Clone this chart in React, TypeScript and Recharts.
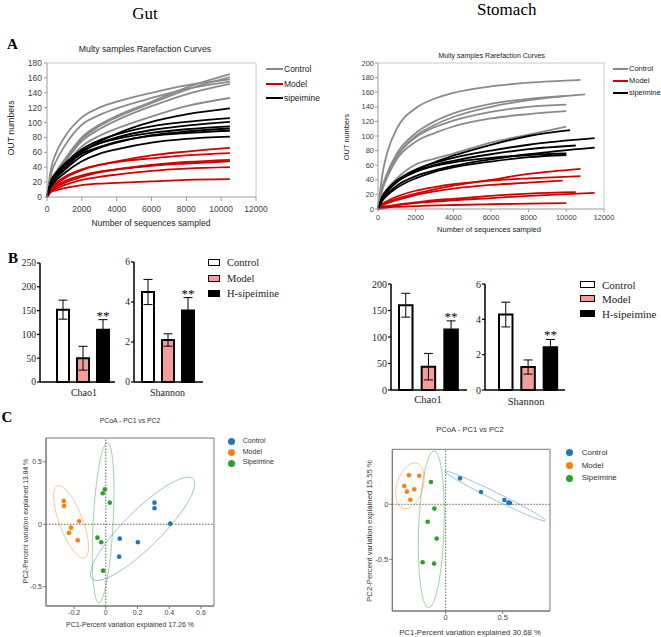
import { LineChart, Line, XAxis, YAxis, ReferenceLine, BarChart, Bar, Cell, ErrorBar, LabelList, ScatterChart, Scatter, ReferenceArea } from 'recharts';

const SANS = '"Liberation Sans", Arial, sans-serif';
const SERIF = '"Liberation Serif", "Times New Roman", serif';

// ---------- A: rarefaction curves ----------
const DEPTHS = [0, 250, 500, 1000, 2000, 3000, 4000, 6000, 8000];
const RARE_X_TICKS = [0, 2000, 4000, 6000, 8000, 10000, 12000];
const GUT_Y_TICKS = [0, 20, 40, 60, 80, 100, 120, 140, 160, 180];
const STOMACH_Y_TICKS = [0, 20, 40, 60, 80, 100, 120, 140, 160, 180, 200];
const RARE_GROUPS = ['Control', 'Model', 'sipeimine'];
const RARE_COLORS = ['#8a8a8a', '#d00000', '#000000'];

const GUT_CONTROL_END = [10500, 10500, 10500, 10500, 10500, 10500];
const GUT_CONTROL = [
  [0, 40, 58, 80, 107, 120, 128, 140, 150, 158],
  [0, 32, 47, 68, 97, 110, 119, 133, 145, 155],
  [0, 22, 33, 50, 80, 97, 109, 128, 147, 165],
  [0, 21, 32, 48, 78, 95, 107, 126, 144, 161],
  [0, 20, 30, 46, 75, 91, 103, 122, 138, 152],
  [0, 18, 27, 42, 68, 82, 92, 108, 122, 133],
];
const GUT_MODEL_END = [10500, 10500, 10500, 10500, 10500, 10500];
const GUT_MODEL = [
  [0, 12, 17, 25, 36, 43, 48, 56, 61, 66],
  [0, 14, 19, 27, 37, 43, 47, 52, 56, 59],
  [0, 9, 13, 19, 27, 33, 37, 43, 47, 50],
  [0, 11, 15, 21, 29, 34, 37, 42, 45, 48],
  [0, 8, 11, 16, 23, 27, 30, 35, 38, 40],
  [0, 7, 9, 12, 16, 18, 19, 21, 23, 24],
];
const GUT_SIPEIMINE_END = [10500, 10500, 10500, 10500, 10500, 10500, 10500];
const GUT_SIPEIMINE = [
  [0, 18, 26, 38, 60, 74, 85, 101, 111, 119],
  [0, 22, 31, 44, 64, 76, 84, 95, 101, 106],
  [0, 20, 29, 41, 61, 72, 80, 90, 96, 101],
  [0, 23, 32, 44, 62, 72, 78, 86, 91, 95],
  [0, 17, 25, 36, 55, 66, 73, 83, 88, 92],
  [0, 20, 28, 40, 58, 67, 74, 82, 86, 89],
  [0, 15, 22, 32, 48, 58, 64, 73, 78, 81],
];

const STOMACH_CONTROL_END = [10750, 11000, 10000, 10000, 10000, 10000];
const STOMACH_CONTROL = [
  [0, 50, 78, 110, 138, 151, 159, 168, 173, 177],
  [0, 30, 48, 72, 100, 115, 126, 140, 149, 157],
  [0, 32, 50, 76, 104, 120, 131, 144, 151, 155],
  [0, 30, 47, 72, 98, 112, 121, 133, 140, 143],
  [0, 28, 44, 68, 92, 104, 113, 124, 130, 134],
  [0, 18, 28, 42, 61, 69, 76, 91, 102, 113],
];
const STOMACH_MODEL_END = [10750, 10750, 9800, 10500, 11500, 10000];
const STOMACH_MODEL = [
  [0, 6, 9, 14, 21, 27, 32, 40, 48, 55],
  [0, 7, 11, 17, 25, 30, 34, 39, 42, 45],
  [0, 5, 8, 12, 19, 24, 28, 33, 36, 39],
  [0, 3, 4, 6, 9, 12, 14, 18, 21, 23],
  [0, 2, 3, 5, 8, 10, 12, 15, 18, 22],
  [0, 1, 2, 3, 4, 5, 5.5, 6.5, 7.3, 8],
];
const STOMACH_SIPEIMINE_END = [10200, 11500, 10500, 11500, 10000, 10000];
const STOMACH_SIPEIMINE = [
  [0, 15, 24, 37, 53, 64, 73, 88, 100, 108],
  [0, 18, 27, 39, 54, 63, 70, 80, 88, 97],
  [0, 16, 25, 37, 51, 60, 66, 75, 82, 87],
  [0, 14, 21, 32, 45, 53, 59, 68, 75, 84],
  [0, 17, 26, 38, 51, 59, 64, 70, 74, 76],
  [0, 12, 19, 29, 42, 51, 57, 65, 71, 74],
];

// ---------- B: alpha diversity ----------
const B_GROUPS = ['Control', 'Model', 'H-sipeimine'];
const B_FILLS = ['#ffffff', '#f39c9c', '#000000'];
const B_SIG = ['', '', '**'];
const GUT_CHAO1 = [152, 50, 110];
const GUT_CHAO1_ERR = [20, 25, 21];
const GUT_SHANNON = [4.5, 2.1, 3.57];
const GUT_SHANNON_ERR = [0.63, 0.31, 0.65];
const STOMACH_CHAO1 = [160, 44, 114];
const STOMACH_CHAO1_ERR = [22.5, 25, 16.4];
const STOMACH_SHANNON = [4.27, 1.3, 2.42];
const STOMACH_SHANNON_ERR = [0.7, 0.4, 0.44];

// ---------- C: PCoA ----------
const PC_GROUPS = ['Control', 'Model', 'Sipeimine'];
const PC_COLORS = ['#1f77b4', '#ff7f0e', '#2ca02c'];
const GUT_PC_CONTROL = [[0.307, 0.173], [0.307, 0.128], [0.406, 0.005], [0.088, -0.115], [0.202, -0.144], [0.084, -0.259]];
const GUT_PC_MODEL = [[-0.265, 0.187], [-0.263, 0.147], [-0.168, 0.024], [-0.219, -0.027], [-0.232, -0.069], [-0.177, -0.128]];
const GUT_PC_SIPEIMINE = [[-0.006, 0.28], [-0.019, 0.248], [0.025, 0.173], [-0.053, -0.107], [-0.029, -0.144], [-0.017, -0.371]];
// confidence ellipses: centre, and two conjugate semi-axes (data units)
const GUT_ELLIPSES = [
  { c: [0.232, -0.037], u: [0.318, 0.4], v: [0.082, -0.104] },
  { c: [-0.219, 0.019], u: [-0.086, 0.288], v: [0.069, 0.032] },
  { c: [-0.017, 0.013], u: [0.027, 0.64], v: [0.063, -0.003] },
];
const STOMACH_PC_CONTROL = [[0.126, 0.236], [0.31, 0.112], [0.515, 0.039], [0.55, 0.015], [0.564, 0.012]];
const STOMACH_PC_MODEL = [[-0.322, 0.264], [-0.231, 0.26], [-0.363, 0.167], [-0.275, 0.136], [-0.339, 0.115], [-0.31, 0.042]];
const STOMACH_PC_SIPEIMINE = [[-0.129, 0.203], [-0.099, -0.039], [-0.158, -0.158], [-0.079, -0.312], [-0.202, -0.527], [-0.102, -0.539]];
const STOMACH_ELLIPSES = [
  { c: [0.433, 0.076], u: [0.439, -0.224], v: [-0.0146, -0.0303] },
  { c: [-0.313, 0.167], u: [0.058, 0.206], v: [0.111, -0.03] },
  { c: [-0.126, -0.227], u: [0.023, 0.712], v: [0.111, 0] },
];

function Txt({ x, y, children, size, font = SANS, weight = 400, color = '#000', rotate = 0, align = 'center' }: any) {
  const tx = align === 'center' ? '-50%' : '0';
  return (
    <div
      style={{
        position: 'absolute', left: x, top: y, fontSize: size, fontFamily: font, fontWeight: weight, color,
        lineHeight: 1, whiteSpace: 'nowrap', transform: `translate(${tx}, -50%) rotate(${rotate}deg)`,
      }}
    >
      {children}
    </div>
  );
}

function Rarefaction({ left, top, width, height, margin, yAxisWidth, xAxisHeight, yMax, yTicks, groups, tickFont, xTickSize, xTickMargin, yTickMargin }: any) {
  return (
    <div style={{ position: 'absolute', left, top }}>
      <LineChart width={width} height={height} margin={margin}>
        <XAxis
          type="number" dataKey="x" domain={[0, 12000]} ticks={RARE_X_TICKS} height={xAxisHeight}
          tick={{ fontSize: tickFont, fill: '#404040', fontFamily: SANS }} tickSize={xTickSize} tickMargin={xTickMargin}
          axisLine={{ stroke: '#9a9a9a' }} tickLine={{ stroke: '#9a9a9a' }}
        />
        <YAxis
          type="number" domain={[0, yMax]} ticks={yTicks} width={yAxisWidth} interval={0}
          tick={{ fontSize: tickFont, fill: '#404040', fontFamily: SANS }} tickSize={3} tickMargin={yTickMargin}
          axisLine={{ stroke: '#9a9a9a' }} tickLine={{ stroke: '#9a9a9a' }}
        />
        <ReferenceLine y={yMax} stroke="#c8c8c8" />
        <ReferenceLine x={12000} stroke="#c8c8c8" />
        {groups.flatMap((g: any, gi: number) =>
          g.curves.map((c: number[], ci: number) => (
            <Line
              key={`${gi}-${ci}`}
              data={[...DEPTHS, g.ends[ci]].map((x, i) => ({ x, y: c[i] }))}
              dataKey="y" type="monotone" stroke={g.color} strokeWidth={1.8} dot={false} isAnimationActive={false}
            />
          ))
        )}
      </LineChart>
    </div>
  );
}

function RareLegend({ x, y0, dy, lineW, size }: any) {
  return (
    <>
      {RARE_GROUPS.map((name, i) => (
        <div key={name}>
          <div style={{ position: 'absolute', left: x, top: y0 + i * dy - 1, width: lineW, height: 2, background: RARE_COLORS[i] }} />
          <Txt x={x + lineW + 1} y={y0 + i * dy} size={size} align="left" color="#222">{name}</Txt>
        </div>
      ))}
    </>
  );
}

function DiversityBars({ left, top, width, height, marginTop, marginRight, xAxisHeight, padding, barSize, values, errors, yMax, yTicks, tickFont, cap }: any) {
  const rows = B_GROUPS.map((name, i) => ({ name, value: values[i], err: errors[i], sig: B_SIG[i] }));
  const renderSig = (p: any) => {
    if (!p || p.value !== '**') return null;
    const row = rows.find((r) => r.sig === '**');
    const vb = p.viewBox && p.viewBox.width != null ? p.viewBox : p;
    const h = Math.abs(vb.height);
    const yTop = Math.min(vb.y, vb.y + vb.height);
    const errTop = yTop - (row!.err * h) / row!.value;
    return (
      <text x={vb.x + vb.width / 2} y={errTop} textAnchor="middle" fontFamily={SERIF} fontSize={13} fill="#000">
        **
      </text>
    );
  };
  return (
    <div style={{ position: 'absolute', left, top }}>
      <BarChart width={width} height={height} data={rows} margin={{ top: marginTop, right: marginRight, bottom: 0, left: 0 }}>
        <XAxis dataKey="name" tick={false} tickLine={false} height={xAxisHeight} padding={padding} axisLine={{ stroke: '#000', strokeWidth: 1.5 }} />
        <YAxis
          type="number" domain={[0, yMax]} ticks={yTicks} width={40} interval={0}
          tick={{ fontSize: tickFont, fill: '#222', fontFamily: SERIF }} tickSize={3} tickMargin={1}
          axisLine={{ stroke: '#000', strokeWidth: 1.5 }} tickLine={{ stroke: '#000', strokeWidth: 1.2 }}
        />
        <Bar dataKey="value" barSize={barSize} stroke="#000" strokeWidth={2} isAnimationActive={false}>
          {rows.map((r, i) => (
            <Cell key={r.name} fill={B_FILLS[i]} />
          ))}
          <ErrorBar dataKey="err" width={cap} stroke="#000" strokeWidth={1} direction="y" />
          <LabelList dataKey="sig" content={renderSig} />
        </Bar>
      </BarChart>
    </div>
  );
}

function BarLegend({ x, textX, ys, boxW, size }: any) {
  return (
    <>
      {B_GROUPS.map((name, i) => (
        <div key={name}>
          <div
            style={{
              position: 'absolute', left: x, top: ys[i] - 4, width: boxW, height: 5,
              background: B_FILLS[i], border: '1.5px solid #000',
            }}
          />
          <Txt x={textX} y={ys[i]} size={size} font={SERIF} align="left" color="#222">{name}</Txt>
        </div>
      ))}
    </>
  );
}

function ellipsePoints(e: any) {
  return Array.from({ length: 97 }, (_, k) => {
    const t = (k / 96) * Math.PI * 2;
    return { x: e.c[0] + e.u[0] * Math.cos(t) + e.v[0] * Math.sin(t), y: e.c[1] + e.u[1] * Math.cos(t) + e.v[1] * Math.sin(t) };
  });
}

const NoShape = () => <g />;

function Pcoa({ left, top, width, height, margin, yAxisWidth, xAxisHeight, xDomain, yDomain, xTicks, yTicks, groups, ellipses, tickFont }: any) {
  return (
    <div style={{ position: 'absolute', left, top }}>
      <ScatterChart width={width} height={height} margin={margin}>
        <XAxis
          type="number" dataKey="x" domain={xDomain} ticks={xTicks} allowDataOverflow height={xAxisHeight} interval={0}
          tick={{ fontSize: tickFont, fill: '#444', fontFamily: SANS }} tickSize={3} tickMargin={1}
          axisLine={{ stroke: '#777' }} tickLine={{ stroke: '#777' }}
        />
        <YAxis
          type="number" dataKey="y" domain={yDomain} ticks={yTicks} allowDataOverflow width={yAxisWidth} interval={0}
          tick={{ fontSize: tickFont, fill: '#444', fontFamily: SANS }} tickSize={3} tickMargin={1}
          axisLine={{ stroke: '#777' }} tickLine={{ stroke: '#777' }}
        />
        <ReferenceArea x1={xDomain[0]} x2={xDomain[1]} y1={yDomain[0]} y2={yDomain[1]} fill="none" stroke="#777" strokeWidth={1} />
        <ReferenceLine x={0} stroke="#666" strokeDasharray="1.5 1.5" />
        <ReferenceLine y={0} stroke="#666" strokeDasharray="1.5 1.5" />
        {ellipses.map((e: any, i: number) => (
          <Scatter
            key={`e${i}`} data={ellipsePoints(e)} line={{ stroke: PC_COLORS[i], strokeWidth: 1, strokeOpacity: 0.45 }}
            shape={NoShape} isAnimationActive={false}
          />
        ))}
        {groups.map((pts: number[][], i: number) => (
          <Scatter
            key={`p${i}`} data={pts.map(([x, y]) => ({ x, y }))} fill={PC_COLORS[i]} isAnimationActive={false}
            shape={(p: any) => <circle cx={p.cx} cy={p.cy} r={2.3} fill={PC_COLORS[i]} />}
          />
        ))}
      </ScatterChart>
    </div>
  );
}

function PcoaLegend({ dotX, textX, ys, r, size }: any) {
  return (
    <>
      {PC_GROUPS.map((name, i) => (
        <div key={name}>
          <div style={{ position: 'absolute', left: dotX - r, top: ys[i] - r, width: 2 * r, height: 2 * r, borderRadius: '50%', background: PC_COLORS[i] }} />
          <Txt x={textX} y={ys[i]} size={size} align="left" color="#333">{name}</Txt>
        </div>
      ))}
    </>
  );
}

export default function App() {
  const gutGroups = [
    { color: RARE_COLORS[0], ends: GUT_CONTROL_END, curves: GUT_CONTROL },
    { color: RARE_COLORS[1], ends: GUT_MODEL_END, curves: GUT_MODEL },
    { color: RARE_COLORS[2], ends: GUT_SIPEIMINE_END, curves: GUT_SIPEIMINE },
  ];
  const stomachGroups = [
    { color: RARE_COLORS[0], ends: STOMACH_CONTROL_END, curves: STOMACH_CONTROL },
    { color: RARE_COLORS[1], ends: STOMACH_MODEL_END, curves: STOMACH_MODEL },
    { color: RARE_COLORS[2], ends: STOMACH_SIPEIMINE_END, curves: STOMACH_SIPEIMINE },
  ];

  return (
    <div style={{ position: 'absolute', left: 0, top: 0, width: 661, height: 637, background: '#fff', overflow: 'hidden' }}>
      {/* headings */}
      <Txt x={145} y={12.5} size={17} font={SERIF}>Gut</Txt>
      <Txt x={506.7} y={9} size={17} font={SERIF}>Stomach</Txt>
      <Txt x={12.5} y={44} size={15} font={SERIF} weight={700}>A</Txt>
      <Txt x={13} y={258} size={15} font={SERIF} weight={700}>B</Txt>
      <Txt x={7} y={417} size={15} font={SERIF} weight={700}>C</Txt>

      {/* A */}
      <Txt x={145} y={49} size={8.7} color="#222">Multy samples Rarefaction Curves</Txt>
      <Rarefaction
        left={0} top={0} width={330} height={230} margin={{ top: 63, right: 74, bottom: 3, left: 0 }}
        yAxisWidth={47} xAxisHeight={30} yMax={180} yTicks={GUT_Y_TICKS} groups={gutGroups} tickFont={8.5}
        xTickSize={4} xTickMargin={5} yTickMargin={2}
      />
      <Txt x={151} y={223} size={8.6} color="#222">Number of sequences sampled</Txt>
      <Txt x={11} y={128} size={8.8} rotate={-90} color="#222">OUT numbers</Txt>
      <RareLegend x={266} y0={69.3} dy={14.3} lineW={17} size={8.5} />

      <Txt x={491.7} y={55} size={7} color="#222">Multy samples Rarefaction Curves</Txt>
      <Rarefaction
        left={330} top={0} width={331} height={240} margin={{ top: 63, right: 57, bottom: 3, left: 0 }}
        yAxisWidth={48} xAxisHeight={28} yMax={200} yTicks={STOMACH_Y_TICKS} groups={stomachGroups} tickFont={7.5}
        xTickSize={3} xTickMargin={3} yTickMargin={1}
      />
      <Txt x={489} y={229.5} size={7.5} color="#222">Number of sequences sampled</Txt>
      <Txt x={347} y={136.7} size={7.4} rotate={-90} color="#222">OUT numbers</Txt>
      <RareLegend x={613} y0={69} dy={12} lineW={15} size={7.5} />

      {/* B */}
      <DiversityBars
        left={0} top={250} width={125} height={150} marginTop={13} marginRight={10} xAxisHeight={18}
        padding={{ left: 13, right: 2 }} barSize={12} values={GUT_CHAO1} errors={GUT_CHAO1_ERR}
        yMax={250} yTicks={[0, 50, 100, 150, 200, 250]} tickFont={9.5} cap={4.5}
      />
      <DiversityBars
        left={94} top={250} width={115} height={150} marginTop={12} marginRight={6} xAxisHeight={18}
        padding={{ left: 4, right: 5 }} barSize={12} values={GUT_SHANNON} errors={GUT_SHANNON_ERR}
        yMax={6} yTicks={[0, 2, 4, 6]} tickFont={9.5} cap={4.5}
      />
      <Txt x={84} y={393} size={10} font={SERIF} color="#222">Chao1</Txt>
      <Txt x={167.5} y={393} size={10} font={SERIF} color="#222">Shannon</Txt>
      <BarLegend x={208} textX={227} ys={[263, 279, 294]} boxW={10} size={10.5} />

      <DiversityBars
        left={351} top={270} width={126} height={140} marginTop={14} marginRight={10} xAxisHeight={20}
        padding={{ left: 3, right: 5 }} barSize={13.5} values={STOMACH_CHAO1} errors={STOMACH_CHAO1_ERR}
        yMax={200} yTicks={[0, 50, 100, 150, 200]} tickFont={10} cap={4.5}
      />
      <DiversityBars
        left={445} top={270} width={130} height={140} marginTop={14} marginRight={10} xAxisHeight={20}
        padding={{ left: 10, right: 3 }} barSize={13.5} values={STOMACH_SHANNON} errors={STOMACH_SHANNON_ERR}
        yMax={6} yTicks={[0, 2, 4, 6]} tickFont={10} cap={4.5}
      />
      <Txt x={428} y={400} size={10.5} font={SERIF} color="#222">Chao1</Txt>
      <Txt x={526} y={401.5} size={10.5} font={SERIF} color="#222">Shannon</Txt>
      <BarLegend x={580} textX={602} ys={[285, 299, 314]} boxW={13} size={11} />

      {/* C */}
      <Txt x={130} y={421} size={6.8} color="#333">PCoA - PC1 vs PC2</Txt>
      <Pcoa
        left={0} top={425} width={230} height={212} margin={{ top: 13, right: 16, bottom: 0, left: 0 }}
        yAxisWidth={46} xAxisHeight={31} xDomain={[-0.377, 0.682]} yDomain={[-0.654, 0.69]}
        xTicks={[-0.2, 0, 0.2, 0.4, 0.6]} yTicks={[-0.5, 0, 0.5]}
        groups={[GUT_PC_CONTROL, GUT_PC_MODEL, GUT_PC_SIPEIMINE]} ellipses={GUT_ELLIPSES} tickFont={7}
      />
      <Txt x={130} y={624} size={7} color="#333">PC1-Percent variation explained 17.26 %</Txt>
      <Txt x={25.5} y={521} size={6.8} rotate={-90} color="#333">PC2-Percent variation explained 13.84 %</Txt>
      <PcoaLegend dotX={231.7} textX={242.7} ys={[441.7, 452.7, 463.3]} r={3.5} size={7.1} />

      <Txt x={470} y={430} size={7.6} color="#333">PCoA - PC1 vs PC2</Txt>
      <Pcoa
        left={340} top={436} width={225} height={201} margin={{ top: 13.3, right: 15, bottom: 0, left: 0 }}
        yAxisWidth={52.3} xAxisHeight={26} xDomain={[-0.468, 0.915]} yDomain={[-0.97, 0.5]}
        xTicks={[0, 0.5]} yTicks={[-0.5, 0]}
        groups={[STOMACH_PC_CONTROL, STOMACH_PC_MODEL, STOMACH_PC_SIPEIMINE]} ellipses={STOMACH_ELLIPSES} tickFont={7.5}
      />
      <Txt x={470} y={632.5} size={7.75} color="#333">PC1-Percent variation explained 30.68 %</Txt>
      <Txt x={369.7} y={531} size={7.75} rotate={-90} color="#333">PC2-Percent variation explained 15.55 %</Txt>
      <PcoaLegend dotX={569.3} textX={581.7} ys={[452.7, 465.7, 478.3]} r={3.8} size={8} />
    </div>
  );
}
